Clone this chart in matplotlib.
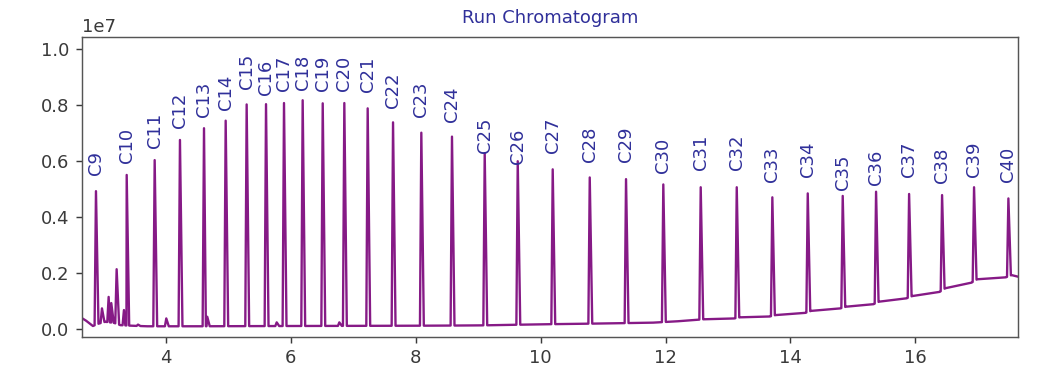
#!/usr/bin/env python3.12
"""Run chromatogram: n-alkane peaks C9..C40 on a slowly rising baseline."""

import numpy as np
import matplotlib

matplotlib.use("Agg")
import matplotlib.pyplot as plt

# ── Data (intensity in units of 1e7, time in minutes) ─────────────────
peak_names = [f"C{n}" for n in range(9, 41)]
peak_rt = [
    2.879, 3.371, 3.819, 4.224, 4.609, 4.956, 5.292, 5.602, 5.890, 6.189,
    6.510, 6.856, 7.230, 7.636, 8.089, 8.580, 9.104, 9.633, 10.193, 10.786,
    11.367, 11.964, 12.563, 13.140, 13.710, 14.277, 14.837, 15.371, 15.900,
    16.428, 16.940, 17.490,
]
peak_height = [
    0.493, 0.551, 0.604, 0.676, 0.718, 0.745, 0.803, 0.804, 0.808, 0.818,
    0.807, 0.808, 0.789, 0.739, 0.702, 0.688, 0.629, 0.600, 0.571, 0.542,
    0.536, 0.517, 0.507, 0.507, 0.471, 0.485, 0.476, 0.491, 0.483, 0.479,
    0.507, 0.467,
]
label_y = [
    0.551, 0.592, 0.646, 0.718, 0.759, 0.783, 0.857, 0.837, 0.852, 0.855,
    0.852, 0.852, 0.848, 0.789, 0.759, 0.741, 0.628, 0.589, 0.628, 0.598,
    0.598, 0.557, 0.568, 0.568, 0.527, 0.545, 0.497, 0.515, 0.545, 0.523,
    0.545, 0.527,
]

# small unlabelled peaks
minor_rt = [2.975, 3.082, 3.124, 3.210, 3.327, 3.552, 4.005, 4.661, 5.773, 6.776]
minor_height = [0.074, 0.115, 0.093, 0.214, 0.068, 0.016, 0.038, 0.044, 0.024, 0.024]

# baseline level between peaks
base_t = [
    2.655, 2.72, 2.83, 2.93, 3.03, 3.17, 3.27, 3.45, 3.70, 4.50, 6.00, 8.00,
    9.00, 10.00, 11.00, 11.80, 12.20, 12.61, 13.10, 13.19, 13.67, 13.76,
    14.24, 14.33, 14.80, 14.89, 15.33, 15.42, 15.86, 15.95, 16.39, 16.48,
    16.90, 16.99, 17.45, 17.54, 17.65,
]
base_y = [
    0.039, 0.030, 0.011, 0.020, 0.026, 0.022, 0.014, 0.012, 0.010, 0.010,
    0.011, 0.012, 0.013, 0.017, 0.020, 0.023, 0.028, 0.035, 0.038, 0.042,
    0.045, 0.050, 0.058, 0.065, 0.074, 0.080, 0.089, 0.098, 0.110, 0.118,
    0.133, 0.146, 0.166, 0.178, 0.185, 0.193, 0.187,
]

SCALE = 1e7
FOOT_L = 0.022
FOOT_R = 0.04
TRACE = "#861a86"
LABEL = "#30309a"
TICK = "#3a3a3a"


def build_trace():
    """Polyline through baseline knots plus a spike at every peak apex."""
    all_rt = np.array(peak_rt + minor_rt)
    all_h = np.array(peak_height + minor_height)
    bt = np.array(base_t)
    by = np.array(base_y)

    # drop baseline knots that sit inside a peak foot
    keep = np.ones(len(bt), dtype=bool)
    for rt in all_rt:
        keep &= ~((bt > rt - FOOT_L) & (bt < rt + FOOT_R))
    pts = list(zip(bt[keep], by[keep]))

    for rt, h in zip(all_rt, all_h):
        pts.append((rt - FOOT_L, np.interp(rt - FOOT_L, bt, by)))
        pts.append((rt, h))
        pts.append((rt + FOOT_R, np.interp(rt + FOOT_R, bt, by)))

    pts.sort(key=lambda p: p[0])
    t, y = np.array(pts).T
    return t, y * SCALE


def main():
    fig = plt.figure(figsize=(1043 / 130, 384 / 130), dpi=130)
    ax = fig.add_axes([0.0786, 0.123, 0.8975, 0.7806])

    t, y = build_trace()
    ax.plot(t, y, color=TRACE, linewidth=1.3, solid_joinstyle="round")

    for name, rt, ly in zip(peak_names, peak_rt, label_y):
        ax.text(rt, ly * SCALE, name, rotation=90, ha="center", va="bottom",
                color=LABEL, fontsize=10)

    ax.set_title("Run Chromatogram", color=LABEL, fontsize=10, pad=8)
    ax.set_xlim(2.655, 17.645)
    ax.set_ylim(-0.0275 * SCALE, 1.044 * SCALE)
    ax.set_xticks([4, 6, 8, 10, 12, 14, 16])
    ax.set_yticks(np.arange(0, 1.01, 0.2) * SCALE)

    ax.tick_params(colors=TICK, labelcolor=TICK)
    ax.yaxis.get_offset_text().set_color(TICK)
    for sp in ax.spines.values():
        sp.set_color("#555555")

    fig.savefig("out.png", dpi=130)
    plt.close(fig)


if __name__ == "__main__":
    main()
